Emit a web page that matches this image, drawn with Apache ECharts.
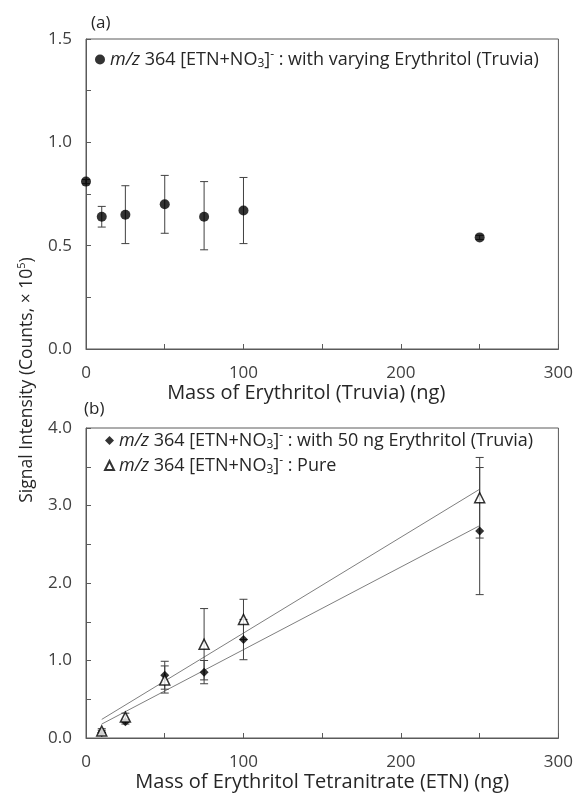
<!DOCTYPE html>
<html><head><meta charset="utf-8">
<script src="https://cdn.jsdelivr.net/npm/echarts@6/dist/echarts.min.js"></script>
<style>html,body{margin:0;padding:0;background:#fff}#c{width:576px;height:796px}</style>
</head><body><div id="c"></div>
<script>
// Panel (a): varying erythritol
const aX = [0, 10, 25, 50, 75, 100, 250];
const aY = [0.81, 0.64, 0.65, 0.70, 0.64, 0.67, 0.54];
const aLow = [0.80, 0.59, 0.51, 0.56, 0.48, 0.51, 0.53];
const aHigh = [0.82, 0.69, 0.79, 0.84, 0.81, 0.83, 0.55];
// Panel (b): ETN mass
const bX = [10, 25, 50, 75, 100, 250];
const mixY = [0.07, 0.21, 0.81, 0.85, 1.27, 2.67];
const mixLow = [0.04, 0.18, 0.63, 0.70, 1.01, 1.85];
const mixHigh = [0.10, 0.24, 0.99, 1.00, 1.53, 3.49];
const pureY = [0.09, 0.27, 0.75, 1.21, 1.53, 3.10];
const pureLow = [0.06, 0.22, 0.58, 0.75, 1.27, 2.58];
const pureHigh = [0.12, 0.32, 0.93, 1.67, 1.79, 3.62];
// Trend lines (endpoints)
const trendX = [10, 250];
const trendMix = [0.18, 2.74];
const trendPure = [0.24, 3.21];

const FONT = 'Open Sans';
const TXT = '#262626';
const AX = '#5a5a5a';
const LF = 18;
const rich = {
  n: {fontFamily: FONT, fontSize: LF, color: TXT, lineHeight: 21},
  i: {fontFamily: FONT, fontSize: LF, color: TXT, fontStyle: 'italic', lineHeight: 21},
  sub: {fontFamily: FONT, fontSize: 12, color: TXT, verticalAlign: 'bottom', lineHeight: 13},
  sup: {fontFamily: FONT, fontSize: 12, color: TXT, verticalAlign: 'top', lineHeight: 13}
};
const ion = '{i|m/z}{n| 364 [ETN+NO}{sub|3}{n|]}{sup|-}{n| : ';
const names = {
  a: ion + 'with varying Erythritol (Truvia)}',
  mix: ion + 'with 50 ng Erythritol (Truvia)}',
  pure: ion + 'Pure}'
};

function zip(xs, ys) { return xs.map((x, i) => [x, ys[i]]); }
function errData(xs, lo, hi) { return xs.map((x, i) => [x, lo[i], hi[i]]); }
function errRender(params, api) {
  const x = api.value(0);
  const p1 = api.coord([x, api.value(1)]);
  const p2 = api.coord([x, api.value(2)]);
  const w = 4;
  const st = {stroke: '#404040', lineWidth: 1};
  return {type: 'group', children: [
    {type: 'line', shape: {x1: p1[0], y1: p1[1], x2: p2[0], y2: p2[1]}, style: st},
    {type: 'line', shape: {x1: p1[0]-w, y1: p1[1], x2: p1[0]+w, y2: p1[1]}, style: st},
    {type: 'line', shape: {x1: p2[0]-w, y1: p2[1], x2: p2[0]+w, y2: p2[1]}, style: st}
  ]};
}

function xAxisCfg(gi, name, shiftPad) {
  return {
    type: 'value', gridIndex: gi, min: 0, max: 300, interval: 100,
    name: name, nameLocation: 'middle', nameGap: 34,
    nameTextStyle: {fontFamily: FONT, fontSize: 20, color: TXT, padding: [0, shiftPad, 0, 0]},
    axisLine: {show: true, lineStyle: {color: AX, width: 1}},
    axisTick: {show: true, inside: true, length: 5, lineStyle: {color: AX}},
    minorTick: {show: true, splitNumber: 2, length: 5, lineStyle: {color: AX}},
    splitLine: {show: false},
    axisLabel: {fontFamily: FONT, fontSize: 17, color: '#404040', margin: 16}
  };
}
function yAxisCfg(gi, max, interval) {
  return {
    type: 'value', gridIndex: gi, min: 0, max: max, interval: interval,
    axisLine: {show: true, lineStyle: {color: AX, width: 1}},
    axisTick: {show: true, inside: true, length: 5, lineStyle: {color: AX}},
    minorTick: {show: true, splitNumber: 2, length: 5, lineStyle: {color: AX}},
    splitLine: {show: false},
    axisLabel: {fontFamily: FONT, fontSize: 17, color: '#404040', margin: 14,
      formatter: v => v.toFixed(1)}
  };
}

const chart = echarts.init(document.getElementById('c'), null, {renderer: 'canvas'});
chart.setOption({
  animation: false,
  backgroundColor: '#fff',
  grid: [
    {left: 86, top: 39, width: 474, height: 310, show: true, borderColor: AX, borderWidth: 1, backgroundColor: 'transparent'},
    {left: 86, top: 428, width: 474, height: 310, show: true, borderColor: AX, borderWidth: 1, backgroundColor: 'transparent'}
  ],
  xAxis: [xAxisCfg(0, 'Mass of Erythritol (Truvia) (ng)', 32), xAxisCfg(1, 'Mass of Erythritol Tetranitrate (ETN) (ng)', 0)],
  yAxis: [yAxisCfg(0, 1.5, 0.5), yAxisCfg(1, 4, 1)],
  legend: [
    {data: ['a'], left: 95, top: 49, itemWidth: 10, itemHeight: 10, itemGap: 8, padding: 0,
      formatter: n => names[n], textStyle: {rich: rich}},
    {data: ['mix', 'pure'], orient: 'vertical', left: 104, top: 430, itemWidth: 9, itemHeight: 9, itemGap: 4, padding: 0,
      formatter: n => names[n], textStyle: {rich: rich}}
  ],
  graphic: [
    {type: 'text', left: 91, top: 15, style: {text: '(a)', font: '17px ' + FONT, fill: TXT}},
    {type: 'text', left: 84, top: 401, style: {text: '(b)', font: '17px ' + FONT, fill: TXT}},
    {type: 'text', x: 27, y: 380, rotation: Math.PI / 2,
      style: {text: '{n|Signal Intensity (Counts, × 10}{sup|5}{n|)}', align: 'center', verticalAlign: 'middle',
        rich: {n: {fontFamily: FONT, fontSize: 17.5, fill: TXT, lineHeight: 22}, sup: {fontFamily: FONT, fontSize: 11, fill: TXT, verticalAlign: 'top', lineHeight: 12}}}}
  ],
  series: [
    {type: 'custom', xAxisIndex: 0, yAxisIndex: 0, renderItem: errRender, data: errData(aX, aLow, aHigh), z: 2},
    {name: 'a', type: 'scatter', xAxisIndex: 0, yAxisIndex: 0, symbol: 'circle', symbolSize: 10,
      itemStyle: {color: '#000'}, data: zip(aX, aY), z: 3, clip: false},
    {type: 'line', xAxisIndex: 1, yAxisIndex: 1, data: zip(trendX, trendMix), symbol: 'none',
      lineStyle: {color: '#7f7f7f', width: 1}, z: 1},
    {type: 'line', xAxisIndex: 1, yAxisIndex: 1, data: zip(trendX, trendPure), symbol: 'none',
      lineStyle: {color: '#7f7f7f', width: 1}, z: 1},
    {type: 'custom', xAxisIndex: 1, yAxisIndex: 1, renderItem: errRender, data: errData(bX, mixLow, mixHigh), z: 2},
    {type: 'custom', xAxisIndex: 1, yAxisIndex: 1, renderItem: errRender, data: errData(bX, pureLow, pureHigh), z: 2},
    {name: 'mix', type: 'scatter', xAxisIndex: 1, yAxisIndex: 1, symbol: 'diamond', symbolSize: 9,
      itemStyle: {color: '#000'}, data: zip(bX, mixY), z: 3},
    {name: 'pure', type: 'scatter', xAxisIndex: 1, yAxisIndex: 1, symbol: 'triangle', symbolSize: 10,
      itemStyle: {color: '#fff', borderColor: '#000', borderWidth: 1.5}, data: zip(bX, pureY), z: 4}
  ]
});
</script>
</body></html>
